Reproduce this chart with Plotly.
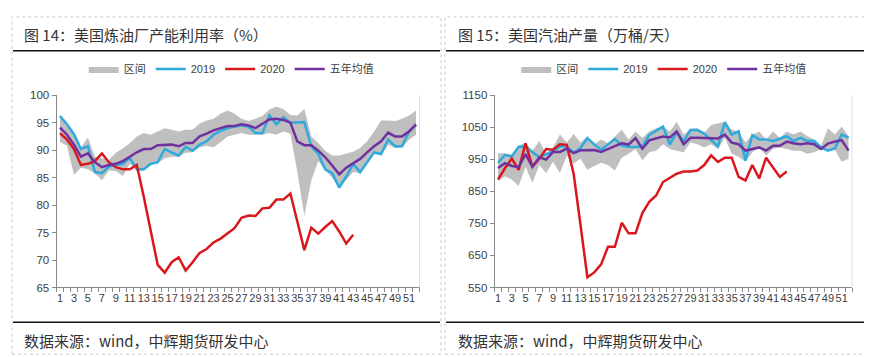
import plotly.graph_objects as go

weeks = list(range(1, 53))
week_ticks = list(range(1, 52, 2))

# Left chart: US refinery utilization (%)
util_2019 = [96.2, 94.7, 92.9, 90.2, 90.7, 86.0, 85.8, 87.0, 87.3, 87.5, 88.6, 86.5, 86.5, 87.5, 87.8, 90.2,
             89.6, 89.0, 90.6, 89.9, 91.0, 91.6, 92.8, 93.5, 94.0, 94.3, 94.5, 94.3, 93.1, 93.1, 96.3, 94.7,
             96.0, 95.0, 95.0, 95.1, 90.7, 89.3, 86.5, 85.8, 83.2, 85.2, 87.5, 86.0, 87.8, 89.6, 89.3, 91.9,
             90.7, 90.7, 93.4, 94.5]
util_2020 = [93.1, 91.9, 90.2, 87.3, 87.5, 88.0, 89.4, 87.8, 86.9, 86.5, 86.5, 87.3, 81.5, 75.3, 69.1, 67.7,
             69.6, 70.5, 68.1, 69.6, 71.3, 72.0, 73.2, 73.9, 74.9, 75.8, 77.7, 78.1, 78.0, 79.4, 79.5, 81.0,
             81.0, 82.1, 77.0, 71.8, 75.9, 74.8, 76.0, 77.1, 75.2, 73.0, 74.6]
util_avg = [94.1, 92.8, 91.0, 88.8, 89.4, 87.8, 86.9, 87.3, 87.5, 88.0, 88.8, 89.6, 90.2, 90.2, 90.9, 91.0,
            91.0, 90.7, 91.3, 91.3, 92.5, 93.0, 93.6, 94.0, 94.4, 94.4, 94.7, 94.5, 94.0, 94.8, 95.6, 95.7,
            95.5, 95.0, 91.6, 90.9, 90.9, 89.9, 88.7, 87.2, 85.6, 86.8, 87.6, 88.4, 89.6, 90.7, 91.6, 93.2,
            92.5, 92.5, 93.4, 94.7]
util_hi = [96.3, 94.8, 93.0, 90.5, 92.3, 88.8, 88.5, 88.2, 89.5, 90.3, 91.3, 92.5, 93.1, 92.8, 93.4, 94.0,
           93.7, 93.4, 93.7, 93.7, 94.8, 95.4, 95.7, 96.6, 97.2, 96.6, 95.7, 95.3, 95.7, 96.2, 97.4, 97.9,
           97.5, 96.4, 96.3, 97.5, 92.5, 91.3, 89.9, 89.0, 89.0, 89.4, 89.7, 90.4, 91.6, 93.4, 95.4, 95.4,
           95.3, 95.7, 96.3, 97.2]
util_lo = [91.5, 90.8, 85.5, 86.8, 86.5, 85.8, 84.5, 86.3, 86.2, 85.3, 87.5, 86.3, 86.3, 87.3, 87.6, 88.5,
           88.8, 88.8, 89.5, 89.6, 90.5, 90.8, 90.5, 91.5, 92.5, 92.8, 93.1, 92.8, 92.8, 92.8, 93.1, 92.8,
           93.4, 93.0, 86.0, 78.0, 84.5, 88.0, 86.3, 85.0, 83.1, 84.6, 86.0, 85.8, 87.5, 89.3, 89.0, 91.0,
           90.4, 90.5, 91.9, 92.8]

# Right chart: US gasoline output (10k bbl/day)
gas_2019 = [939, 963, 959, 989, 989, 971, 956, 966, 975, 990, 990, 970, 985, 1016, 996, 980,
            996, 1013, 993, 989, 988, 990, 1026, 1040, 1052, 996, 1035, 1006, 1041, 1041, 1030, 1010,
            991, 1066, 1027, 1037, 946, 1025, 1012, 1012, 1007, 1014, 1022, 1007, 1017, 1007, 1007, 987,
            977, 984, 1027, 1018]
gas_2020 = [887, 922, 952, 917, 1000, 927, 952, 982, 980, 997, 995, 905, 745, 582, 597, 622,
            677, 677, 752, 719, 719, 782, 817, 837, 879, 892, 905, 912, 912, 915, 932, 962,
            942, 955, 955, 895, 884, 932, 890, 955, 925, 895, 912]
gas_avg = [923, 938, 929, 926, 966, 926, 956, 949, 973, 973, 983, 969, 978, 979, 979, 973,
           981, 991, 1000, 996, 1016, 983, 1009, 1016, 1021, 1018, 1037, 997, 1017, 1017, 1017, 1015,
           1015, 1027, 1002, 997, 977, 982, 987, 977, 992, 992, 1005, 1000, 997, 1000, 997, 982,
           999, 1005, 1010, 977]
gas_hi = [969, 969, 965, 992, 1002, 977, 1007, 967, 987, 1027, 1002, 1029, 1002, 1022, 997, 1012,
          1000, 1022, 1042, 1012, 1037, 1017, 1037, 1047, 1052, 1037, 1067, 1027, 1045, 1047, 1032, 1057,
          1062, 1067, 1042, 1037, 1002, 1027, 1037, 1012, 1037, 1017, 1037, 1027, 1037, 1022, 1012, 992,
          1047, 1027, 1052, 1022]
gas_lo = [882, 897, 887, 867, 927, 877, 932, 907, 942, 907, 962, 937, 952, 917, 929, 939,
          932, 915, 955, 967, 982, 947, 972, 977, 997, 982, 977, 972, 1002, 997, 987, 997,
          982, 1017, 967, 957, 942, 972, 987, 962, 982, 987, 982, 977, 977, 967, 972, 982,
          977, 980, 942, 952]

GRAY = "#BFBFBF"
CYAN = "#2FAADD"
RED = "#D9181E"
PURPLE = "#7030A0"
FONT = "Liberation Sans, Arial, Noto Sans CJK SC, sans-serif"
CJK = "Noto Sans CJK SC, sans-serif"

fig = go.Figure()


def add_panel(xa, ya, lg, lo, hi, s19, s20, avg):
    fig.add_trace(go.Scatter(x=weeks, y=lo, mode="lines", line=dict(width=0, color=GRAY),
                             showlegend=False, hoverinfo="skip", xaxis=xa, yaxis=ya, legend=lg))
    fig.add_trace(go.Scatter(x=weeks, y=hi, mode="lines", line=dict(width=0, color=GRAY),
                             fill="tonexty", fillcolor=GRAY, name="区间", xaxis=xa, yaxis=ya, legend=lg))
    fig.add_trace(go.Scatter(x=weeks, y=s19, mode="lines", line=dict(width=2.5, color=CYAN),
                             name="2019", xaxis=xa, yaxis=ya, legend=lg))
    fig.add_trace(go.Scatter(x=weeks[:len(s20)], y=s20, mode="lines", line=dict(width=2.5, color=RED),
                             name="2020", xaxis=xa, yaxis=ya, legend=lg))
    fig.add_trace(go.Scatter(x=weeks, y=avg, mode="lines", line=dict(width=2.5, color=PURPLE),
                             name="五年均值", xaxis=xa, yaxis=ya, legend=lg))


add_panel("x", "y", "legend", util_lo, util_hi, util_2019, util_2020, util_avg)
add_panel("x2", "y2", "legend2", gas_lo, gas_hi, gas_2019, gas_2020, gas_avg)

W, H = 872, 357
ydom = [(H - 283) / H, (H - 84) / H]

xcommon = dict(range=[0.5, 52.5], tickmode="array", tickvals=week_ticks, ticks="", tickangle=0,
               showgrid=False, zeroline=False, showline=True, linecolor="#898989", linewidth=1,
               tickfont=dict(family=FONT, size=11, color="#404040"),
               minor=dict(tick0=0.5, dtick=1, ticks="outside", ticklen=4, tickcolor="#898989"),
               fixedrange=True)
ycommon = dict(showgrid=False, zeroline=False, showline=True, linecolor="#898989", linewidth=1,
               ticks="outside", ticklen=4, tickcolor="#898989",
               tickfont=dict(family=FONT, size=11.5, color="#404040"), fixedrange=True)

fig.update_layout(
    width=W, height=H, margin=dict(l=0, r=0, t=0, b=0),
    paper_bgcolor="white", plot_bgcolor="white",
    xaxis=dict(domain=[48.5 / W, 411.5 / W], anchor="y", **xcommon),
    yaxis=dict(domain=ydom, anchor="x", range=[65, 100], tick0=65, dtick=5, **ycommon),
    xaxis2=dict(domain=[486.6 / W, 844.0 / W], anchor="y2", **xcommon),
    yaxis2=dict(domain=ydom, anchor="x2", range=[550, 1150], tick0=550, dtick=100, **ycommon),
    legend=dict(orientation="h", x=0.256, y=1 - 57 / H, xanchor="center", yanchor="middle",
                font=dict(family=FONT, size=11, color="#404040"), bgcolor="rgba(0,0,0,0)",
                traceorder="normal", itemwidth=30),
    legend2=dict(orientation="h", x=0.752, y=1 - 57 / H, xanchor="center", yanchor="middle",
                 font=dict(family=FONT, size=11, color="#404040"), bgcolor="rgba(0,0,0,0)",
                 traceorder="normal", itemwidth=30),
    showlegend=True,
)

shapes = []
# panel borders (dotted)
for x0, x1 in [(4, 433), (437, 868)]:
    shapes.append(dict(type="rect", xref="paper", yref="paper", x0=x0 / W, x1=x1 / W,
                       y0=1 - 352 / H, y1=1 - 3 / H, line=dict(color="#C8C8C8", width=1, dash="dot")))
    for yy in (38, 319):
        shapes.append(dict(type="line", xref="paper", yref="paper", x0=(x0 + 1) / W, x1=(x1 - 1) / W,
                           y0=1 - yy / H, y1=1 - yy / H, line=dict(color="#111111", width=1.5)))
# right edge of plot areas
for xr, yr in [("x domain", "y domain"), ("x2 domain", "y2 domain")]:
    shapes.append(dict(type="line", xref=xr, yref=yr, x0=1, x1=1, y0=0, y1=1,
                       line=dict(color="#E0E0E0", width=1)))
fig.update_layout(shapes=shapes)

annotations = [
    dict(text="图 14：美国炼油厂产能利用率（%）", x=14 / W, y=1 - 21 / H),
    dict(text="图 15：美国汽油产量（万桶/天）", x=448 / W, y=1 - 21 / H),
    dict(text="数据来源：wind，中辉期货研发中心", x=14 / W, y=1 - 338 / H),
    dict(text="数据来源：wind，中辉期货研发中心", x=448 / W, y=1 - 338 / H),
]
for a in annotations:
    fig.add_annotation(xref="paper", yref="paper", xanchor="left", yanchor="middle", showarrow=False,
                       font=dict(family=CJK, size=15, color="#333333"), **a)

fig.write_html("out.html")
